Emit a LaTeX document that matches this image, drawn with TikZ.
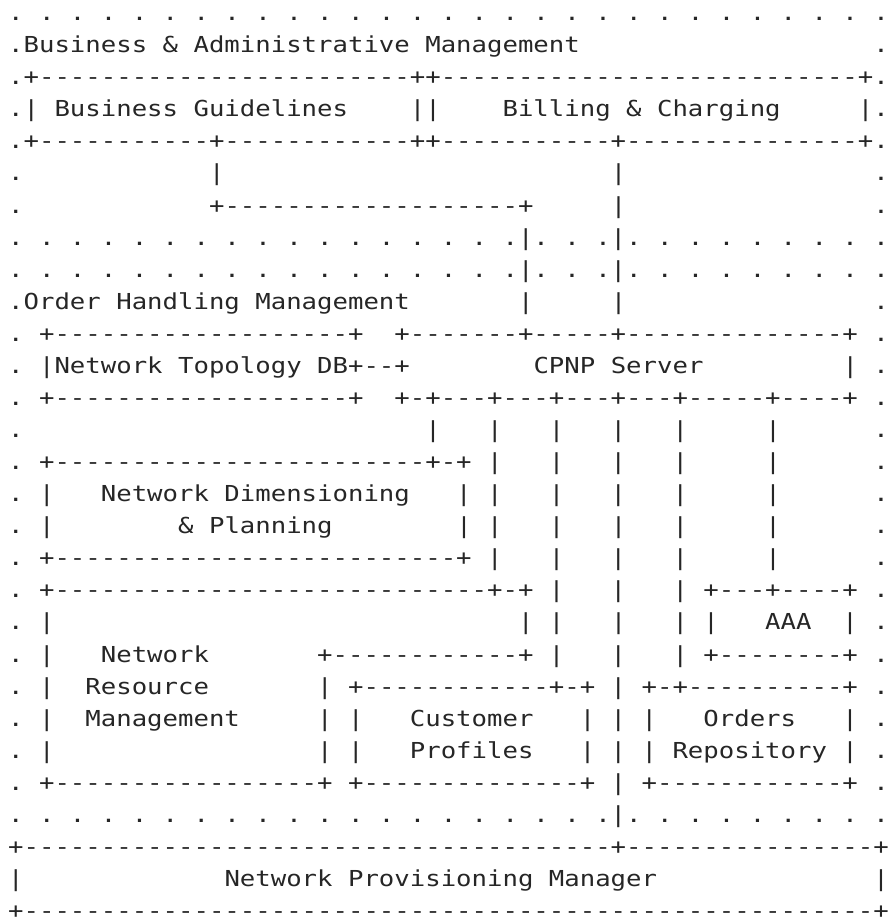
\documentclass[tikz,border=0pt]{standalone}
\usepackage{fontspec}
\setmonofont[FakeStretch=1.1665]{DejaVu Sans Mono}

% runs of blanks, dashes and dots in the character grid
\newcommand{\blank}[1]{\hspace*{#1\fontdimen2\font}}
\newcommand{\dashes}[1]{\foreach \i in {1,...,#1}{-}}
\newcommand{\dotrun}[1]{.\foreach \i in {2,...,#1}{\ .}}

\tikzset{
    asciiRow/.style={
        font=\ttfamily\fontsize{22}{32}\selectfont,
        anchor=base west,
        inner sep=0pt,
        outer sep=0pt,
        color=black!85!white
    },
}

\begin{document}
\begin{tikzpicture}[x=15.45pt,y=-32.07pt]
    \useasboundingbox (0pt,0pt) rectangle (890pt,-924pt);

    \begin{scope}[shift={(8.2pt,11.47pt)}]
        % Business & Administrative Management
        \node[asciiRow] (row01) at (0, 1) {\dotrun{29}};
        \node[asciiRow] (row02) at (0, 2) {.Business \& Administrative Management\blank{19}.};
        \node[asciiRow] (row03) at (0, 3) {.+\dashes{24}++\dashes{27}+.};
        \node[asciiRow] (row04) at (0, 4) {.| Business Guidelines\blank{4}||\blank{4}Billing \& Charging\blank{5}|.};
        \node[asciiRow] (row05) at (0, 5) {.+\dashes{11}+\dashes{12}++\dashes{11}+\dashes{15}+.};
        \node[asciiRow] (row06) at (0, 6) {.\blank{12}|\blank{25}|\blank{16}.};
        \node[asciiRow] (row07) at (0, 7) {.\blank{12}+\dashes{19}+\blank{5}|\blank{16}.};
        \node[asciiRow] (row08) at (0, 8) {\dotrun{17}|. . .|\dotrun{9}};

        % Order Handling Management
        \node[asciiRow] (row09) at (0, 9) {\dotrun{17}|. . .|\dotrun{9}};
        \node[asciiRow] (row10) at (0,10) {.Order Handling Management\blank{7}|\blank{5}|\blank{16}.};
        \node[asciiRow] (row11) at (0,11) {. +\dashes{19}+\blank{2}+\dashes{7}+\dashes{5}+\dashes{14}+ .};
        \node[asciiRow] (row12) at (0,12) {. |Network Topology DB+\dashes{2}+\blank{8}CPNP Server\blank{9}| .};
        \node[asciiRow] (row13) at (0,13) {. +\dashes{19}+\blank{2}+-+\dashes{3}+\dashes{3}+\dashes{3}+\dashes{3}+\dashes{5}+\dashes{4}+ .};
        \node[asciiRow] (row14) at (0,14) {.\blank{26}|\blank{3}|\blank{3}|\blank{3}|\blank{3}|\blank{5}|\blank{6}.};
        \node[asciiRow] (row15) at (0,15) {. +\dashes{24}+-+ |\blank{3}|\blank{3}|\blank{3}|\blank{5}|\blank{6}.};
        \node[asciiRow] (row16) at (0,16) {. |\blank{3}Network Dimensioning\blank{3}| |\blank{3}|\blank{3}|\blank{3}|\blank{5}|\blank{6}.};
        \node[asciiRow] (row17) at (0,17) {. |\blank{8}\& Planning\blank{8}| |\blank{3}|\blank{3}|\blank{3}|\blank{5}|\blank{6}.};
        \node[asciiRow] (row18) at (0,18) {. +\dashes{26}+ |\blank{3}|\blank{3}|\blank{3}|\blank{5}|\blank{6}.};
        \node[asciiRow] (row19) at (0,19) {. +\dashes{28}+-+ |\blank{3}|\blank{3}| +\dashes{3}+\dashes{4}+ .};
        \node[asciiRow] (row20) at (0,20) {. |\blank{30}| |\blank{3}|\blank{3}| |\blank{3}AAA\blank{2}| .};
        \node[asciiRow] (row21) at (0,21) {. |\blank{3}Network\blank{7}+\dashes{12}+ |\blank{3}|\blank{3}| +\dashes{8}+ .};
        \node[asciiRow] (row22) at (0,22) {. |\blank{2}Resource\blank{7}| +\dashes{12}+-+ | +-+\dashes{10}+ .};
        \node[asciiRow] (row23) at (0,23) {. |\blank{2}Management\blank{5}| |\blank{3}Customer\blank{3}| | |\blank{3}Orders\blank{3}| .};
        \node[asciiRow] (row24) at (0,24) {. |\blank{17}| |\blank{3}Profiles\blank{3}| | | Repository | .};
        \node[asciiRow] (row25) at (0,25) {. +\dashes{17}+ +\dashes{14}+ | +\dashes{12}+ .};
        \node[asciiRow] (row26) at (0,26) {\dotrun{20}|\dotrun{9}};

        % Network Provisioning Manager
        \node[asciiRow] (row27) at (0,27) {+\dashes{38}+\dashes{16}+};
        \node[asciiRow] (row28) at (0,28) {|\blank{13}Network Provisioning Manager\blank{14}|};
        \node[asciiRow] (row29) at (0,29) {+\dashes{55}+};
    \end{scope}
\end{tikzpicture}
\end{document}
